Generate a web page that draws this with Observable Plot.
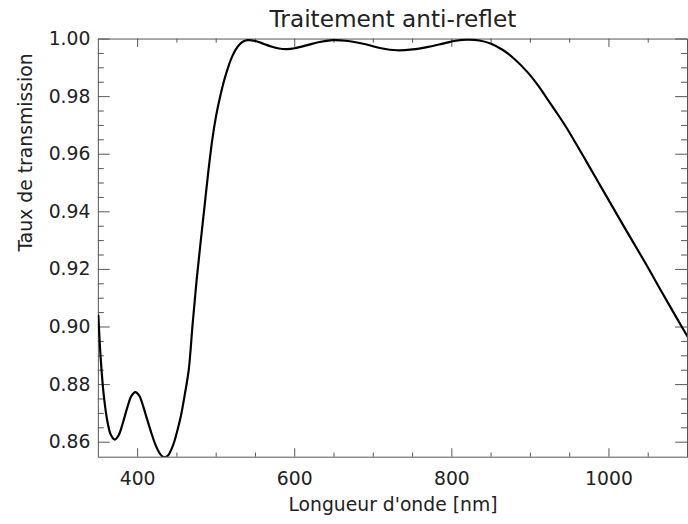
<!DOCTYPE html>
<html>
<head>
<meta charset="utf-8">
<script src="https://cdn.jsdelivr.net/npm/d3@7"></script>
<script src="https://cdn.jsdelivr.net/npm/@observablehq/plot@0.6"></script>
<style>
  html, body { margin: 0; padding: 0; background: #fff; overflow: hidden; }
  #chart { width: 688px; height: 524px; overflow: hidden; }
  svg { display: block; }
</style>
</head>
<body>
<div id="chart"></div>
<script>
// Data
const wavelength = [350, 353, 357, 362, 366, 371, 376, 381, 387, 392, 397, 402, 407, 412, 417, 422, 427, 431, 435, 439, 443, 447, 451, 455, 460, 465, 470, 475, 480, 485, 490, 495, 500, 505, 510, 515, 520, 525, 530, 535, 540, 550, 560, 570, 580, 590, 600, 615, 630, 648, 665, 690, 710, 730, 750, 770, 790, 805, 820, 835, 850, 865, 880, 896, 910, 921, 935, 946, 971, 996, 1021, 1046, 1068, 1088, 1100];
const transmission = [0.904, 0.889, 0.876, 0.8665, 0.8625, 0.8609, 0.8625, 0.8665, 0.8722, 0.8760, 0.8774, 0.8762, 0.8725, 0.8680, 0.8636, 0.8596, 0.8566, 0.8552, 0.8548, 0.8555, 0.8575, 0.8605, 0.8645, 0.8690, 0.8765, 0.8850, 0.9010, 0.9160, 0.9290, 0.9415, 0.9540, 0.9650, 0.9735, 0.9800, 0.9855, 0.9900, 0.9937, 0.9964, 0.9982, 0.9992, 0.9996, 0.9993, 0.9984, 0.9974, 0.9967, 0.9965, 0.9968, 0.9978, 0.9989, 0.9996, 0.9994, 0.9982, 0.9968, 0.9961, 0.9964, 0.9973, 0.9985, 0.9994, 0.9998, 0.9995, 0.9984, 0.9962, 0.9930, 0.9886, 0.9838, 0.9794, 0.9738, 0.9692, 0.9576, 0.9458, 0.9340, 0.9224, 0.9118, 0.9023, 0.8967];

const xMajorTicks = [400, 600, 800, 1000];
const xMinorTicks = [450, 500, 550, 650, 700, 750, 850, 900, 950, 1050];
const yMajorTicks = [0.86, 0.88, 0.90, 0.92, 0.94, 0.96, 0.98, 1.00];
const yMinorTicks = [0.865, 0.87, 0.875, 0.885, 0.89, 0.895, 0.905, 0.91, 0.915, 0.925, 0.93, 0.935, 0.945, 0.95, 0.955, 0.965, 0.97, 0.975, 0.985, 0.99, 0.995];

const titleText = "Traitement anti-reflet";
const xLabel = "Longueur d'onde [nm]";
const yLabel = "Taux de transmission";

const data = wavelength.map((w, i) => ({w, t: transmission[i]}));

const W = 696, H = 524;
const mL = 99, mR = 1, mT = 39, mB = 62;
const plotW = W - mL - mR, plotH = H - mT - mB;
const axisColor = "#555";
const font = "DejaVu Sans, sans-serif";

const chart = Plot.plot({
  width: W,
  height: H,
  marginLeft: mL,
  marginRight: mR,
  marginTop: mT,
  marginBottom: mB,
  style: {fontFamily: font, color: "#222", background: "#fff"},
  x: {domain: [350, 1100]},
  y: {domain: [0.8548, 1.0]},
  marks: [
    Plot.frame({stroke: axisColor, strokeWidth: 1}),
    // x ticks (bottom and top, inside)
    Plot.tickX(xMajorTicks, {x: d => d, insetTop: plotH - 8.5, stroke: axisColor}),
    Plot.tickX(xMinorTicks, {x: d => d, insetTop: plotH - 4.2, stroke: axisColor}),
    Plot.tickX(xMajorTicks, {x: d => d, insetBottom: plotH - 8.5, stroke: axisColor}),
    Plot.tickX(xMinorTicks, {x: d => d, insetBottom: plotH - 4.2, stroke: axisColor}),
    // y ticks (left and right, inside)
    Plot.tickY(yMajorTicks, {y: d => d, insetRight: plotW - 12, stroke: axisColor}),
    Plot.tickY(yMinorTicks, {y: d => d, insetRight: plotW - 6, stroke: axisColor}),
    Plot.tickY(yMajorTicks, {y: d => d, insetLeft: plotW - 12, stroke: axisColor}),
    Plot.tickY(yMinorTicks, {y: d => d, insetLeft: plotW - 6, stroke: axisColor}),
    // tick labels
    Plot.axisX({ticks: xMajorTicks, tickSize: 0, tickPadding: 15, tickFormat: d3.format("d"), fontSize: 19, label: null}),
    Plot.axisY({ticks: yMajorTicks, tickSize: 0, tickPadding: 8, tickFormat: d3.format(".2f"), fontSize: 19, label: null}),
    // curve
    Plot.line(data, {x: "w", y: "t", stroke: "#000", strokeWidth: 2.2, curve: "catmull-rom", clip: true}),
    // title and axis labels
    Plot.text([titleText], {text: d => d, frameAnchor: "top", lineAnchor: "bottom", dy: -12.3, fontSize: 23.5, fill: "#222"}),
    Plot.text([xLabel], {text: d => d, frameAnchor: "bottom", lineAnchor: "bottom", dy: 54.5, fontSize: 19, fill: "#222"}),
    Plot.text([yLabel], {text: d => d, frameAnchor: "left", lineAnchor: "bottom", rotate: -90, dx: -67, dy: 3.5, fontSize: 19, fill: "#222"})
  ]
});
document.getElementById("chart").appendChild(chart);
</script>
</body>
</html>
